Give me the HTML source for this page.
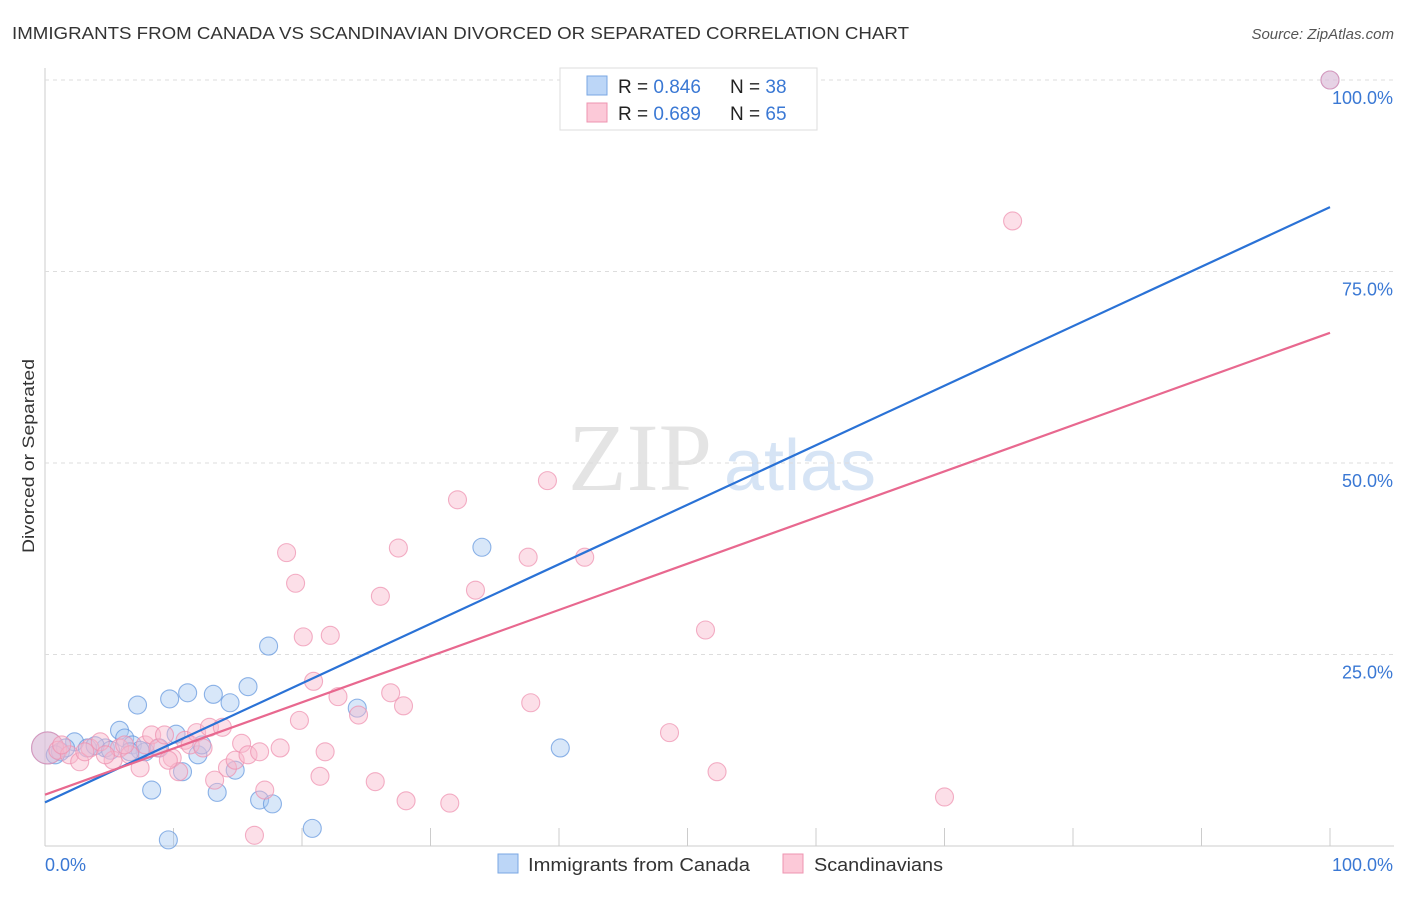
<!DOCTYPE html>
<html><head><meta charset="utf-8"><style>
body{margin:0;background:#fff;font-family:"Liberation Sans",sans-serif}
</style></head><body>
<svg id="c" width="1406" height="892" xmlns="http://www.w3.org/2000/svg">
<text x="12" y="39" font-size="17.5" fill="#333" textLength="897" lengthAdjust="spacingAndGlyphs">IMMIGRANTS FROM CANADA VS SCANDINAVIAN DIVORCED OR SEPARATED CORRELATION CHART</text>
<text x="1394" y="39" font-size="15" fill="#555" font-style="italic" text-anchor="end">Source: ZipAtlas.com</text>
<text x="640" y="490" font-size="96" fill="#e4e4e4" font-family="Liberation Serif,serif" text-anchor="middle">ZIP</text>
<text x="800" y="490" font-size="72" fill="#d6e4f5" text-anchor="middle">atlas</text>
<text transform="translate(34,456) rotate(-90)" font-size="17" fill="#333" text-anchor="middle" textLength="194" lengthAdjust="spacingAndGlyphs">Divorced or Separated</text>
<g id="grid"></g><g id="pts"></g><g id="lines"></g>
<g>
<rect x="560" y="68" width="257" height="62" fill="#fff" stroke="#ddd"/>
<rect x="587" y="76" width="20" height="19" fill="#bcd6f7" stroke="#7aa7e3"/>
<rect x="587" y="103" width="20" height="19" fill="#fcc9d8" stroke="#ee94b0"/>
<text x="618" y="93" font-size="19" fill="#222">R = <tspan fill="#3a78d4">0.846</tspan></text>
<text x="730" y="93" font-size="19" fill="#222">N = <tspan fill="#3a78d4">38</tspan></text>
<text x="618" y="120" font-size="19" fill="#222">R = <tspan fill="#3a78d4">0.689</tspan></text>
<text x="730" y="120" font-size="19" fill="#222">N = <tspan fill="#3a78d4">65</tspan></text>
</g>
<g>
<rect x="498" y="854" width="20" height="19" fill="#bcd6f7" stroke="#7aa7e3"/>
<text x="528" y="871" font-size="18" fill="#333" textLength="222" lengthAdjust="spacingAndGlyphs">Immigrants from Canada</text>
<rect x="783" y="854" width="20" height="19" fill="#fcc9d8" stroke="#ee94b0"/>
<text x="814" y="871" font-size="18" fill="#333" textLength="129" lengthAdjust="spacingAndGlyphs">Scandinavians</text>
</g>
</svg>
<script>
const yTicks=[25,50,75,100];
const yTickLabels=["25.0%","50.0%","75.0%","100.0%"];
const xTicks=[10,20,30,40,50,60,70,80,90,100];
const blueX=[0.2,1.2,2.3,3.3,4.7,5.8,6.2,6.8,7.8,7.2,8.3,9.6,9.7,10.2,10.7,11.1,11.9,12.2,13.1,13.4,14.4,14.8,15.8,16.7,17.4,17.7,20.8,24.3,34.0,40.1,100,1.6,3.9,5.1,0.8,8.9,7.4,6.6];
const blueY=[12.8,12.3,13.6,12.8,12.8,15.1,14.1,13.2,12.3,18.4,7.3,0.8,19.2,14.6,9.7,20.0,11.9,13.2,19.8,7.0,18.7,9.9,20.8,6.0,26.1,5.5,2.3,18.0,39.0,12.8,100,12.8,13.1,12.5,11.9,12.8,12.5,12.3];
const pinkX=[0.2,1.0,1.9,2.7,3.5,4.3,5.3,5.8,6.6,7.4,7.8,8.3,8.8,9.3,9.9,10.4,10.9,11.3,11.8,12.3,12.8,13.2,13.8,14.2,14.8,15.3,15.8,16.3,16.7,17.1,18.3,18.8,19.5,19.8,20.1,20.9,21.4,21.8,22.2,22.8,24.4,25.7,26.1,26.9,27.5,27.9,28.1,31.5,32.1,33.5,37.6,37.8,39.1,42.0,48.6,51.4,52.3,70.0,75.3,100,1.3,3.1,4.7,6.2,9.6];
const pinkY=[12.8,12.5,11.9,11.0,12.8,13.6,11.2,12.8,11.9,10.2,13.2,14.5,12.8,14.5,11.5,9.7,13.8,13.2,14.8,12.8,15.5,8.6,15.5,10.2,11.2,13.4,11.9,1.4,12.3,7.3,12.8,38.3,34.3,16.4,27.3,21.5,9.1,12.3,27.5,19.5,17.1,8.4,32.6,20.0,38.9,18.3,5.9,5.6,45.2,33.4,37.7,18.7,47.7,37.7,14.8,28.2,9.7,6.4,81.6,100,13.2,12.3,11.9,13.2,11.2];
const blueTrend=[5.7,83.4];
const pinkTrend=[6.7,67.0];
const X0=45,X1=1330,Y0=846,Y100=80;
const sx=v=>X0+(X1-X0)*v/100, sy=v=>Y0-(Y0-Y100)*v/100;
const NS="http://www.w3.org/2000/svg";
function mk(p,t,a){const e=document.createElementNS(NS,t);for(const k in a)e.setAttribute(k,a[k]);p.appendChild(e);return e;}
const g=document.getElementById('grid');
let ax=mk(g,'line',{x1:X0,y1:68,x2:X0,y2:Y0,stroke:'#ccc'});


let bx=mk(g,'line',{x1:X0,y1:Y0,x2:1394,y2:Y0,stroke:'#ccc'});


yTicks.forEach((t,i)=>{
 let l=mk(g,'line',{x1:X0,y1:sy(t),x2:1394,y2:sy(t),stroke:'#ddd','stroke-dasharray':'4,4'});
 
 
 let tx=mk(g,'text',{x:1393,y:sy(t)+24,'font-size':18,fill:'#3a78d4','text-anchor':'end'});
 tx.textContent=yTickLabels[i];
 
 
});
xTicks.forEach(t=>{
 let l=mk(g,'line',{x1:sx(t),y1:Y0,x2:sx(t),y2:Y0-18,stroke:'#ccc'});
 
 
});
[[0,'0.0%','start',45],[100,'100.0%','end',1393]].forEach(d=>{
 let tx=mk(g,'text',{x:d[3],y:871,'font-size':18,fill:'#3a78d4','text-anchor':d[2]});
 tx.textContent=d[1];
 
 
});
const P=document.getElementById('pts');
function pts(xs,ys,fill,stroke,name){xs.forEach((x,i)=>{
 const r=(i===0)?16:9;
 let c=mk(P,'circle',{cx:sx(x),cy:sy(ys[i]),r:r,fill:fill,'fill-opacity':0.45,stroke:stroke,'stroke-opacity':0.7,'stroke-width':1.1});
 
 
});}
pts(blueX,blueY,'#a9c9f2','#5f94dd','canada-point');
pts(pinkX,pinkY,'#f9b9cc','#ee8fae','scandinavian-point');
const L=document.getElementById('lines');
let b=mk(L,'line',{x1:sx(0),y1:sy(blueTrend[0]),x2:sx(100),y2:sy(blueTrend[1]),stroke:'#2a72d6','stroke-width':2.2});


let p=mk(L,'line',{x1:sx(0),y1:sy(pinkTrend[0]),x2:sx(100),y2:sy(pinkTrend[1]),stroke:'#e8688f','stroke-width':2.2});


</script>
</body></html>
